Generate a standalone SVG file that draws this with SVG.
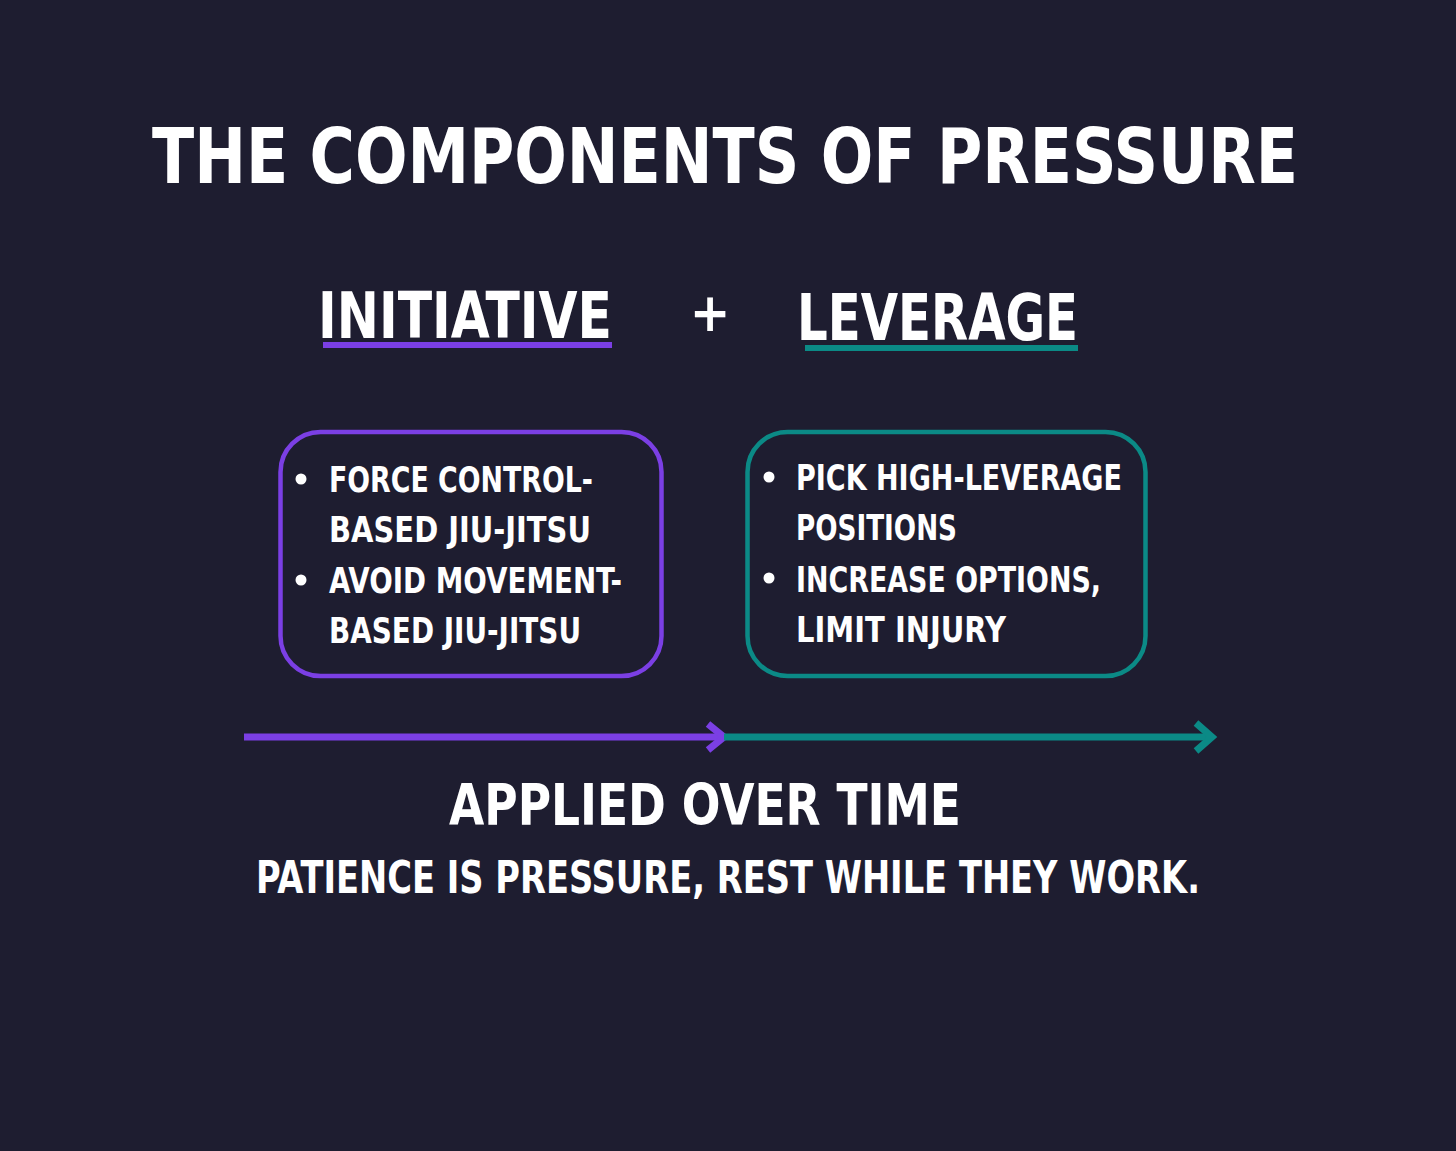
<svg xmlns="http://www.w3.org/2000/svg" width="1456" height="1151" viewBox="0 0 1456 1151">
<style>
.t{fill:#ffffff;font-family:"DejaVu Sans Condensed","DejaVu Sans",sans-serif;font-weight:bold}
.box{fill:none;stroke-width:4.5}
.purple{stroke:#7b3fe4}
.teal{stroke:#0b8a86}
.ln{stroke-width:7;fill:none}
.chev{stroke-width:7;fill:none;stroke-linejoin:miter;stroke-linecap:butt}
.dot{fill:#ffffff}
</style>
<rect width="1456" height="1151" fill="#1e1d30"/>
<g id="title">
<text class="t" x="152" y="183" font-size="77" textLength="1146" lengthAdjust="spacingAndGlyphs">THE COMPONENTS OF PRESSURE</text>
</g>
<g id="initiative">
<text class="t" x="318" y="338" font-size="64" textLength="294" lengthAdjust="spacingAndGlyphs">INITIATIVE</text>
<rect x="323" y="342" width="289" height="6" fill="#7b3fe4"/>
</g>
<g id="plus">
<text class="t" x="710" y="331" font-size="54" font-weight="normal" text-anchor="middle">+</text>
</g>
<g id="leverage">
<text class="t" x="797" y="340" font-size="64" textLength="281" lengthAdjust="spacingAndGlyphs">LEVERAGE</text>
<rect x="805" y="345" width="273" height="6" fill="#0b8a86"/>
</g>
<g id="initiative-box">
<rect class="box purple" x="280.5" y="432" width="381" height="244" rx="40"/>
<circle class="dot" cx="301" cy="479" r="5.5"/>
<text class="t" x="329" y="492" font-size="35" textLength="264" lengthAdjust="spacingAndGlyphs">FORCE CONTROL-</text>
<text class="t" x="329" y="542" font-size="35" textLength="262" lengthAdjust="spacingAndGlyphs">BASED JIU-JITSU</text>
<circle class="dot" cx="301" cy="580" r="5.5"/>
<text class="t" x="329" y="593" font-size="35" textLength="293" lengthAdjust="spacingAndGlyphs">AVOID MOVEMENT-</text>
<text class="t" x="329" y="643" font-size="35" textLength="252" lengthAdjust="spacingAndGlyphs">BASED JIU-JITSU</text>
</g>
<g id="leverage-box">
<rect class="box teal" x="747.5" y="432" width="398" height="244" rx="40"/>
<circle class="dot" cx="769" cy="477" r="5.5"/>
<text class="t" x="796" y="490" font-size="35" textLength="326" lengthAdjust="spacingAndGlyphs">PICK HIGH-LEVERAGE</text>
<text class="t" x="796" y="540" font-size="35" textLength="161" lengthAdjust="spacingAndGlyphs">POSITIONS</text>
<circle class="dot" cx="769" cy="578" r="5.5"/>
<text class="t" x="796" y="592" font-size="35" textLength="305" lengthAdjust="spacingAndGlyphs">INCREASE OPTIONS,</text>
<text class="t" x="796" y="642" font-size="35" textLength="210" lengthAdjust="spacingAndGlyphs">LIMIT INJURY</text>
</g>
<g id="connectors">
<line class="ln purple" x1="244" y1="737" x2="722" y2="737"/>
<polyline class="chev purple" points="708,724 724,737 708,750"/>
<line class="ln teal" x1="724" y1="737" x2="1210" y2="737"/>
<polyline class="chev teal" points="1196,723 1212,737 1196,751"/>
</g>
<g id="applied">
<text class="t" x="449" y="825" font-size="57" textLength="512" lengthAdjust="spacingAndGlyphs">APPLIED OVER TIME</text>
<text class="t" x="256" y="893" font-size="44" textLength="944" lengthAdjust="spacingAndGlyphs">PATIENCE IS PRESSURE, REST WHILE THEY WORK.</text>
</g>
</svg>
